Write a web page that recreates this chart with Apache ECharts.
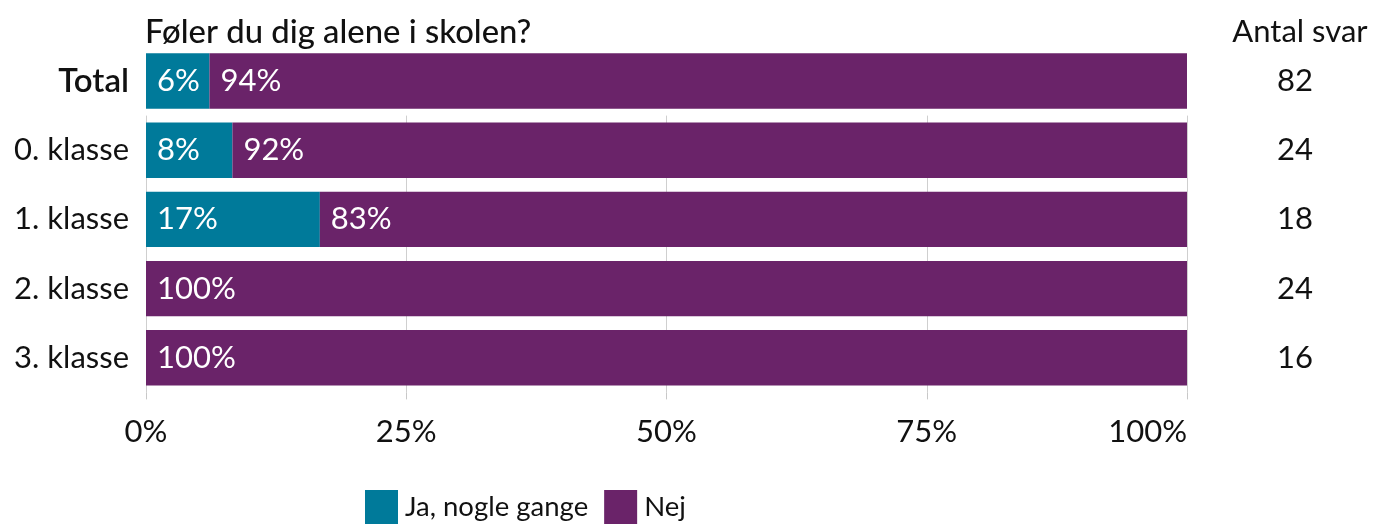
<!DOCTYPE html>
<html><head><meta charset="utf-8">
<script src="https://cdn.jsdelivr.net/npm/echarts@6/dist/echarts.min.js"></script>
<style>html,body{margin:0;padding:0;background:#fff}#c{width:1376px;height:524px}</style>
</head><body><div id="c"></div>
<script>
const categories = ['Total', '0. klasse', '1. klasse', '2. klasse', '3. klasse'];
const jaValues = [6.1, 8.3, 16.7, 0, 0];
const nejValues = [93.9, 91.7, 83.3, 100, 100];
const counts = ['82', '24', '18', '24', '16'];
const seriesNames = ['Ja, nogle gange', 'Nej'];
const xTicks = [0, 25, 50, 75, 100];

const FONT = 'Lato';
const FS = 31;
const TEAL = '#007A9A';
const PURPLE = '#6A2369';
const chart = echarts.init(document.getElementById('c'), null, {renderer: 'canvas'});

const gridDefs = [
  {top: 46.4, height: 69.2},
  {top: 115.6, height: 276.8}
];
const catSplit = [categories.slice(0, 1), categories.slice(1)];
const cntSplit = [counts.slice(0, 1), counts.slice(1)];

const labelCfg = {
  show: true, position: 'insideLeft', distance: 11, color: '#fff',
  fontFamily: FONT, fontSize: FS,
  formatter: p => p.value > 0 ? Math.round(p.value) + '%' : ''
};

const series = [];
[0, 1].forEach(g => {
  const s = g === 0 ? 0 : 1;
  const e = g === 0 ? 1 : 5;
  series.push({
    name: seriesNames[0], type: 'bar', stack: 's' + g, xAxisIndex: g, yAxisIndex: g * 2,
    barCategoryGap: '20%', itemStyle: {color: TEAL}, label: labelCfg,
    data: jaValues.slice(s, e), emphasis: {disabled: true}
  });
  series.push({
    name: seriesNames[1], type: 'bar', stack: 's' + g, xAxisIndex: g, yAxisIndex: g * 2,
    barCategoryGap: '20%', itemStyle: {color: PURPLE}, label: labelCfg,
    data: nejValues.slice(s, e), emphasis: {disabled: true}
  });
});

chart.setOption({
  animation: false,
  textStyle: {fontFamily: FONT},
  title: [
    {text: 'Føler du dig alene i skolen?', left: 145, top: 16, padding: 0,
     textStyle: {fontFamily: FONT, fontSize: 32.8, fontWeight: 500, color: '#111'}},
    {text: 'Antal svar', left: 1300, top: 16, padding: 0, textAlign: 'center',
     textStyle: {fontFamily: FONT, fontSize: FS, fontWeight: 'normal', color: '#111'}}
  ],
  legend: {
    data: seriesNames, left: 365, top: 490, padding: 0, itemWidth: 33, itemHeight: 34, itemGap: 16,
    icon: 'rect', selectedMode: false,
    textStyle: {fontFamily: FONT, fontSize: 27.5, color: '#111', padding: [0, 0, 0, 2]}
  },
  grid: gridDefs.map(d => ({left: 146, right: 189, top: d.top, height: d.height, containLabel: false})),
  xAxis: [0, 1].map(g => ({
    type: 'value', gridIndex: g, min: xTicks[0], max: xTicks[xTicks.length - 1], interval: 25,
    show: true,
    axisLine: {show: false},
    axisTick: {show: g === 1, length: 7, lineStyle: {color: '#c8c8c8'}},
    axisLabel: {show: g === 1, formatter: '{value}%', fontFamily: FONT, fontSize: FS, color: '#111',
      margin: 24, alignMaxLabel: 'right'},
    splitLine: {show: g === 1, lineStyle: {color: '#cfcfcf', width: 1}}
  })),
  yAxis: [0, 1].flatMap(g => ([
    {
      type: 'category', gridIndex: g, data: catSplit[g], inverse: true, position: 'left',
      axisLine: {show: false}, axisTick: {show: false},
      axisLabel: {fontFamily: FONT, fontSize: g === 0 ? 33 : FS, color: '#111', margin: 17,
        fontWeight: g === 0 ? 600 : 'normal'}
    },
    {
      type: 'category', gridIndex: g, data: cntSplit[g], inverse: true, position: 'right',
      axisLine: {show: false}, axisTick: {show: false},
      axisLabel: {fontFamily: FONT, fontSize: FS, color: '#111', margin: 108, align: 'center',
        padding: [g === 0 ? 12 : 6, 0, 0, 0]}
    }
  ])),
  series: series
});
</script></body></html>
